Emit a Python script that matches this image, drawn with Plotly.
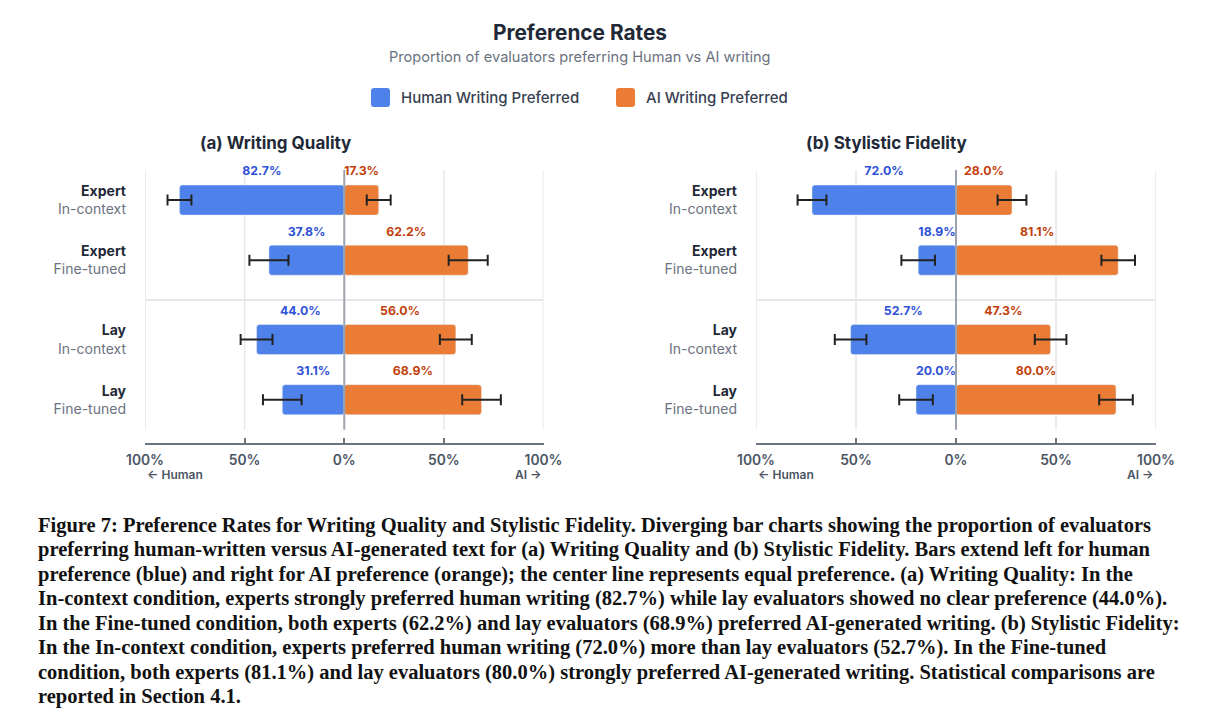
import plotly.graph_objects as go
from plotly.subplots import make_subplots

# data
groups = ["Expert", "Expert", "Lay", "Lay"]
conditions = ["In-context", "Fine-tuned", "In-context", "Fine-tuned"]

wq_human = [82.7, 37.8, 44.0, 31.1]
wq_ai = [17.3, 62.2, 56.0, 68.9]
wq_err = [6.0, 9.8, 8.0, 9.7]

sf_human = [72.0, 18.9, 52.7, 20.0]
sf_ai = [28.0, 81.1, 47.3, 80.0]
sf_err = [7.2, 8.4, 7.9, 8.4]

series_names = ["Human Writing Preferred", "AI Writing Preferred"]
panel_titles = ["(a) Writing Quality", "(b) Stylistic Fidelity"]
x_ticks = [-100, -50, 0, 50, 100]
x_tick_labels = ["100%", "50%", "0%", "50%", "100%"]

caption_lines = [
    "Figure 7: Preference Rates for Writing Quality and Stylistic Fidelity. Diverging bar charts showing the proportion of evaluators",
    "preferring human-written versus AI-generated text for (a) Writing Quality and (b) Stylistic Fidelity. Bars extend left for human",
    "preference (blue) and right for AI preference (orange); the center line represents equal preference. (a) Writing Quality: In the",
    "In-context condition, experts strongly preferred human writing (82.7%) while lay evaluators showed no clear preference (44.0%).",
    "In the Fine-tuned condition, both experts (62.2%) and lay evaluators (68.9%) preferred AI-generated writing. (b) Stylistic Fidelity:",
    "In the In-context condition, experts preferred human writing (72.0%) more than lay evaluators (52.7%). In the Fine-tuned",
    "condition, both experts (81.1%) and lay evaluators (80.0%) strongly preferred AI-generated writing. Statistical comparisons are",
    "reported in Section 4.1.",
]

W, H = 1209, 727
BLUE = "#4f81ea"
ORANGE = "#ea7c35"
BLUE_TXT = "#2f52d6"
ORANGE_TXT = "#c2410c"
DARK = "#1f2937"
GRAY = "#6b7280"
FONT = "Inter"

# row positions: one unit per row, extra gap between expert and lay groups
group_gap = 0.32
rows = []
for i, g in enumerate(groups):
    rows.append(i + (group_gap if g != groups[0] else 0))
divider = (rows[1] + rows[2]) / 2
grid_top, grid_bottom = rows[0] - 0.5, rows[-1] + 0.5
y_range = [rows[-1] + 0.72, rows[0] - 0.5]


def px_x(p):
    return p / W


def px_y(p):
    return 1 - p / H


def round_rect(x0, y0, x1, y1, r=3):
    # rounded rectangle path in paper units, corners given in pixels
    a, b, c, d = px_x(x0), px_y(y0), px_x(x1), px_y(y1)
    rx, ry = r / W, r / H
    return (f"M{a + rx},{b} L{c - rx},{b} Q{c},{b} {c},{b - ry} L{c},{d + ry} "
            f"Q{c},{d} {c - rx},{d} L{a + rx},{d} Q{a},{d} {a},{d + ry} "
            f"L{a},{b - ry} Q{a},{b} {a + rx},{b} Z")


fig = make_subplots(rows=1, cols=2)

panels = [(wq_human, wq_ai, wq_err), (sf_human, sf_ai, sf_err)]
for col, (human, ai, err) in enumerate(panels, start=1):
    fig.add_trace(go.Bar(
        y=rows, x=[-v for v in human], orientation="h", base=0,
        width=0.5, marker=dict(color=BLUE, cornerradius=3),
        error_x=dict(type="data", array=err, color="#222222", thickness=2, width=5.5),
        name=series_names[0], showlegend=False, hoverinfo="skip"), row=1, col=col)
    fig.add_trace(go.Bar(
        y=rows, x=ai, orientation="h", base=0,
        width=0.5, marker=dict(color=ORANGE, cornerradius=3),
        error_x=dict(type="data", array=err, color="#222222", thickness=2, width=5.5),
        name=series_names[1], showlegend=False, hoverinfo="skip"), row=1, col=col)
    # value labels above each segment
    fig.add_trace(go.Scatter(
        x=[-v / 2 for v in human], y=[r - 0.46 for r in rows], mode="text",
        text=[f"{v:.1f}%" for v in human], cliponaxis=False,
        textfont=dict(family=FONT, size=12.3, color=BLUE_TXT, weight=700),
        showlegend=False, hoverinfo="skip"), row=1, col=col)
    fig.add_trace(go.Scatter(
        x=[v / 2 for v in ai], y=[r - 0.46 for r in rows], mode="text",
        text=[f"{v:.1f}%" for v in ai], cliponaxis=False,
        textfont=dict(family=FONT, size=12.3, color=ORANGE_TXT, weight=700),
        showlegend=False, hoverinfo="skip"), row=1, col=col)

    xa = "x" if col == 1 else "x2"
    ya = "y" if col == 1 else "y2"
    # gridlines, group divider, centre line
    for t in x_ticks:
        if t == 0:
            continue
        fig.add_shape(type="line", xref=xa, yref=ya, x0=t, x1=t, y0=grid_top, y1=grid_bottom,
                      line=dict(color="#e5e7eb", width=1.5), layer="below")
    fig.add_shape(type="line", xref=xa, yref=ya, x0=-100, x1=100, y0=divider, y1=divider,
                  line=dict(color="#e5e7eb", width=2), layer="below")
    fig.add_shape(type="line", xref=xa, yref=ya, x0=0, x1=0, y0=grid_top, y1=grid_bottom,
                  line=dict(color="#9ca3af", width=2), layer="above")
    fig.add_annotation(xref=xa, yref="paper", x=-100, y=px_y(474), xanchor="left", yanchor="middle",
                       text="← Human", showarrow=False,
                       font=dict(family=FONT, size=12, color="#4b5563", weight=600))
    fig.add_annotation(xref=xa, yref="paper", x=100, y=px_y(474), xanchor="right", yanchor="middle",
                       text="AI →", showarrow=False,
                       font=dict(family=FONT, size=12, color="#4b5563", weight=600))

y_ticktext = [f"<b>{g}</b><br><span style='color:{GRAY}'>{c}</span>"
              for g, c in zip(groups, conditions)]

fig.update_xaxes(range=[-100, 100], tickvals=x_ticks, ticktext=x_tick_labels,
                 showgrid=False, zeroline=False, showline=True, linecolor=GRAY, linewidth=2,
                 ticks="inside", ticklen=5, tickwidth=2, tickcolor=GRAY,
                 tickfont=dict(family=FONT, size=13.8, color="#4b5563", weight=600),
                 ticklabelstandoff=3, fixedrange=True, automargin=False)
fig.update_yaxes(range=y_range, tickvals=rows, ticktext=y_ticktext,
                 showgrid=False, zeroline=False, showline=False, ticks="",
                 tickfont=dict(family=FONT, size=14, color=DARK),
                 ticklabelstandoff=18, fixedrange=True, automargin=False)

fig.update_layout(
    xaxis=dict(domain=[px_x(145), px_x(543.5)]),
    xaxis2=dict(domain=[px_x(756), px_x(1156)]),
    yaxis=dict(domain=[px_y(443), px_y(170)]),
    yaxis2=dict(domain=[px_y(443), px_y(170)]),
)

# titles
fig.add_annotation(xref="paper", yref="paper", x=px_x(580), y=px_y(32), xanchor="center", yanchor="middle",
                   text="<b>Preference Rates</b>", showarrow=False,
                   font=dict(family=FONT, size=20.8, color=DARK))
fig.add_annotation(xref="paper", yref="paper", x=px_x(580), y=px_y(57), xanchor="center", yanchor="middle",
                   text="Proportion of evaluators preferring Human vs AI writing",
                   showarrow=False, font=dict(family=FONT, size=14.6, color=GRAY))
for t, cx in zip(panel_titles, [275, 886]):
    fig.add_annotation(xref="paper", yref="paper", x=px_x(cx), y=px_y(143), xanchor="center",
                       yanchor="middle", text=f"<b>{t}</b>", showarrow=False,
                       font=dict(family=FONT, size=17, color=DARK))

# legend: rounded swatches + labels
for name, color, sx in zip(series_names, [BLUE, ORANGE], [371, 616]):
    fig.add_shape(type="path", xref="paper", yref="paper", path=round_rect(sx, 88, sx + 19, 107),
                  fillcolor=color, line=dict(width=0))
    fig.add_annotation(xref="paper", yref="paper", x=px_x(sx + 28), y=px_y(97.5), xanchor="left",
                       yanchor="middle", text=name, showarrow=False,
                       font=dict(family=FONT, size=15, color="#374151", weight=500))

# caption, one annotation per line
for i, line in enumerate(caption_lines):
    fig.add_annotation(xref="paper", yref="paper", x=px_x(36), y=px_y(525 + i * 24.5),
                       xanchor="left", yanchor="middle", text=line, showarrow=False,
                       font=dict(family="Liberation Serif", size=20.5, color="#111111", weight=700))

fig.update_layout(
    width=W, height=H,
    margin=dict(l=0, r=0, t=0, b=0),
    paper_bgcolor="white", plot_bgcolor="white",
    barmode="overlay", showlegend=False,
    font=dict(family=FONT, color=DARK),
)

fig.write_html("out.html", config={"displayModeBar": False},
               post_script="document.body.style.margin='0';")
